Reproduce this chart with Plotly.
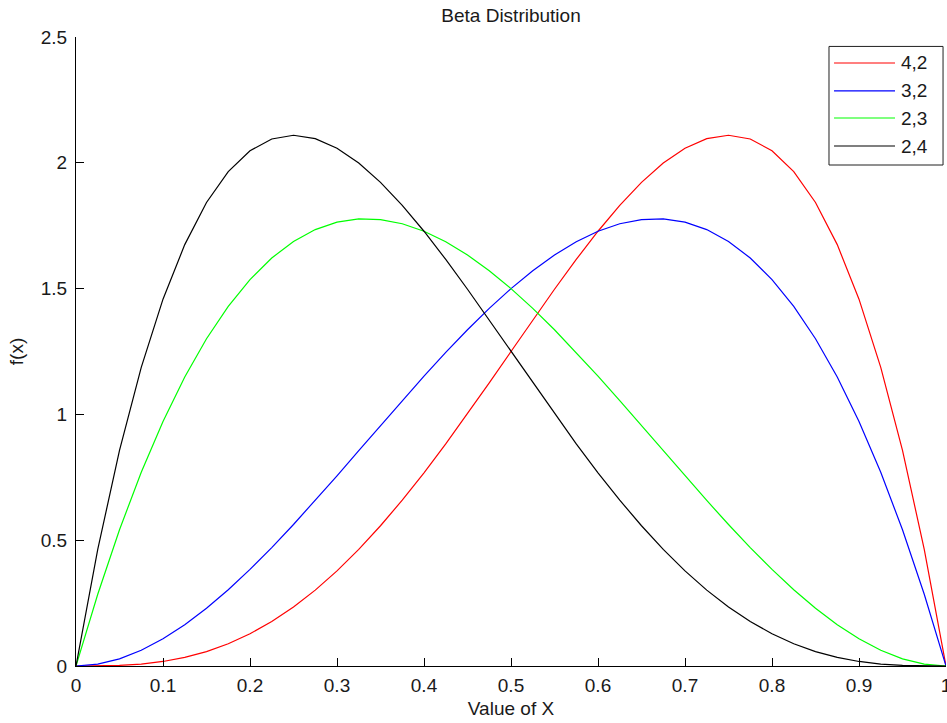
import plotly.graph_objects as go

# Sample points on [0, 1]
x_vals = [0, 0.025, 0.05, 0.075, 0.1, 0.125, 0.15, 0.175, 0.2, 0.225,
          0.25, 0.275, 0.3, 0.325, 0.35, 0.375, 0.4, 0.425, 0.45, 0.475,
          0.5, 0.525, 0.55, 0.575, 0.6, 0.625, 0.65, 0.675, 0.7, 0.725,
          0.75, 0.775, 0.8, 0.825, 0.85, 0.875, 0.9, 0.925, 0.95, 0.975, 1]

# Density values f(x) for each (alpha, beta) pair
beta_4_2 = [0, 0.0003, 0.0024, 0.0078, 0.018, 0.0342, 0.0574, 0.0884, 0.128, 0.1766,
            0.2344, 0.3016, 0.378, 0.4634, 0.5574, 0.6592, 0.768, 0.8828, 1.0024, 1.1253,
            1.25, 1.3747, 1.4974, 1.6159, 1.728, 1.8311, 1.9224, 1.9991, 2.058, 2.0959,
            2.1094, 2.0947, 2.048, 1.9653, 1.8424, 1.6748, 1.458, 1.1872, 0.8574, 0.4634, 0]

beta_3_2 = [0, 0.0073, 0.0285, 0.0624, 0.108, 0.1641, 0.2295, 0.3032, 0.384, 0.4708,
            0.5625, 0.6579, 0.756, 0.8556, 0.9555, 1.0547, 1.152, 1.2463, 1.3365, 1.4214,
            1.5, 1.5711, 1.6335, 1.6862, 1.728, 1.7578, 1.7745, 1.7769, 1.764, 1.7346,
            1.6875, 1.6217, 1.536, 1.4293, 1.3005, 1.1484, 0.972, 0.7701, 0.5415, 0.2852, 0]

beta_2_3 = [0, 0.2852, 0.5415, 0.7701, 0.972, 1.1484, 1.3005, 1.4293, 1.536, 1.6217,
            1.6875, 1.7346, 1.764, 1.7769, 1.7745, 1.7578, 1.728, 1.6862, 1.6335, 1.5711,
            1.5, 1.4214, 1.3365, 1.2463, 1.152, 1.0547, 0.9555, 0.8556, 0.756, 0.6579,
            0.5625, 0.4708, 0.384, 0.3032, 0.2295, 0.1641, 0.108, 0.0624, 0.0285, 0.0073, 0]

beta_2_4 = [0, 0.4634, 0.8574, 1.1872, 1.458, 1.6748, 1.8424, 1.9653, 2.048, 2.0947,
            2.1094, 2.0959, 2.058, 1.9991, 1.9224, 1.8311, 1.728, 1.6159, 1.4974, 1.3747,
            1.25, 1.1253, 1.0024, 0.8828, 0.768, 0.6592, 0.5574, 0.4634, 0.378, 0.3016,
            0.2344, 0.1766, 0.128, 0.0884, 0.0574, 0.0342, 0.018, 0.0078, 0.0024, 0.0003, 0]

series_names = ["4,2", "3,2", "2,3", "2,4"]
series_values = [beta_4_2, beta_3_2, beta_2_3, beta_2_4]
series_colors = ["#ff0000", "#0000ff", "#00ff00", "#000000"]

x_tick_vals = [0, 0.1, 0.2, 0.3, 0.4, 0.5, 0.6, 0.7, 0.8, 0.9, 1]
x_tick_text = ["0", "0.1", "0.2", "0.3", "0.4", "0.5", "0.6", "0.7", "0.8", "0.9", "1"]
y_tick_vals = [0, 0.5, 1, 1.5, 2, 2.5]
y_tick_text = ["0", "0.5", "1", "1.5", "2", "2.5"]

FONT = "Liberation Sans, Arial, sans-serif"
FS = 19
TEXT_COLOR = "#1a1a1a"

fig = go.Figure()
for name, vals, color in zip(series_names, series_values, series_colors):
    fig.add_trace(go.Scatter(
        x=x_vals, y=vals, mode="lines", name=name,
        line=dict(color=color, width=1.2), cliponaxis=False,
        showlegend=False,
    ))

# Boxed legend in the upper-right corner
leg_x0, leg_x1 = 0.8655, 0.9966
leg_y0, leg_y1 = 0.7965, 0.985
fig.add_shape(type="rect", xref="paper", yref="paper",
              x0=leg_x0, x1=leg_x1, y0=leg_y0, y1=leg_y1,
              line=dict(color="#202020", width=1), fillcolor="white", layer="above")
row_y = [0.9587, 0.9142, 0.8712, 0.8267]
for name, color, ry in zip(series_names, series_colors, row_y):
    fig.add_shape(type="line", xref="paper", yref="paper",
                  x0=0.8713, x1=0.9414, y0=ry, y1=ry,
                  line=dict(color=color, width=1.2), layer="above")
    fig.add_annotation(xref="paper", yref="paper", x=0.9460, y=ry,
                       text=name, showarrow=False, xanchor="left", yanchor="middle",
                       font=dict(family=FONT, size=FS, color=TEXT_COLOR))

fig.update_layout(
    width=947, height=723,
    margin=dict(l=76, r=1, t=37, b=57, autoexpand=False),
    paper_bgcolor="white", plot_bgcolor="white",
    font=dict(family=FONT, size=FS, color=TEXT_COLOR),
    title=dict(text="Beta Distribution", x=0.5, xref="paper", xanchor="center",
               y=1 - 15 / 723, yref="container", yanchor="middle",
               font=dict(family=FONT, size=FS, color=TEXT_COLOR)),
    showlegend=False,
)
fig.update_xaxes(
    range=[0, 1], tickvals=x_tick_vals, ticktext=x_tick_text,
    showgrid=False, zeroline=False, showline=True, linecolor="black", linewidth=1,
    ticks="inside", ticklen=8, tickcolor="black", tickwidth=1,
    ticklabelstandoff=2, ticklabeloverflow="allow", automargin=False,
    title=dict(text="Value of X", standoff=6, font=dict(family=FONT, size=FS)),
)
fig.update_yaxes(
    range=[0, 2.5], tickvals=y_tick_vals, ticktext=y_tick_text,
    showgrid=False, zeroline=False, showline=True, linecolor="black", linewidth=1,
    ticks="inside", ticklen=8, tickcolor="black", tickwidth=1,
    ticklabelstandoff=4, ticklabeloverflow="allow", automargin=False,
    title=dict(text="f(x)", standoff=12, font=dict(family=FONT, size=FS)),
)

fig.write_html("out.html")
